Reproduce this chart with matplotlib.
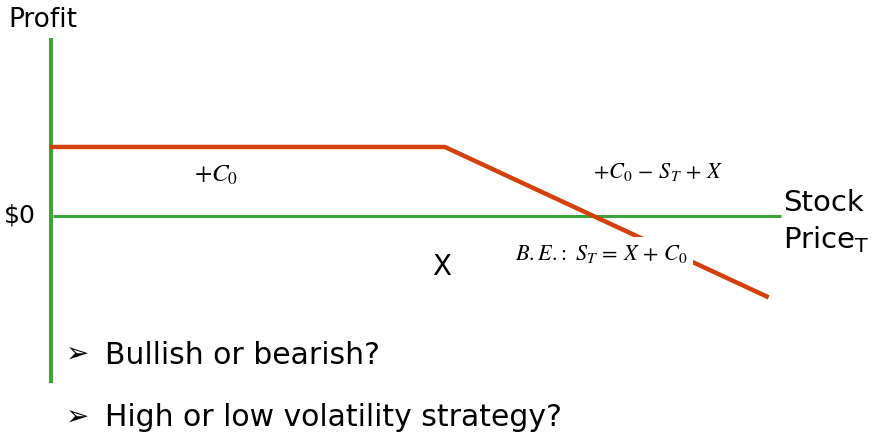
import matplotlib
matplotlib.use('Agg')
import matplotlib.pyplot as plt

# short call payoff diagram
strike = 50.0
premium = 5.0
price = [36.7, 50.0, 60.9]
profit = [5.0, 5.0, -5.9]

axis_x = 36.75          # where the profit axis stands
profit_axis = [12.9, -12.1]
price_axis = [36.8, 61.3]

bullets = ['Bullish or bearish?', 'High or low volatility strategy?']

green = '#3aa53a'
red = '#d4400c'

plt.rcParams['mathtext.fontset'] = 'stix'
plt.rcParams['font.family'] = ['DejaVu Sans']

fig = plt.figure(figsize=(8.72, 4.38), dpi=100)
ax = fig.add_axes([0, 0, 1, 1])
ax.set_xlim(35.02, 64.38)
ax.set_ylim(-16.09, 15.65)
ax.axis('off')

ax.plot([axis_x, axis_x], profit_axis, color=green, lw=2.9, solid_capstyle='butt', zorder=2)
ax.plot(price_axis, [0, 0], color=green, lw=2.2, solid_capstyle='butt', zorder=2)
ax.plot(price, profit, color=red, lw=3.2, solid_capstyle='butt', zorder=3)


def px(x, y):
    return x / 872, 1 - y / 438


tr = ax.transAxes
ax.text(*px(8, 20), 'Profit', transform=tr, fontsize=19, va='center', ha='left')
ax.text(*px(4, 215), '$0', transform=tr, fontsize=18, va='center', ha='left')
ax.text(*px(783, 203), 'Stock', transform=tr, fontsize=21, va='center', ha='left')
ax.text(*px(783, 240), r'Price$_\mathrm{T}$', transform=tr, fontsize=21, va='center',
        ha='left', math_fontfamily='dejavusans')
ax.text(strike - 0.1, -3.7, 'X', fontsize=20, va='center', ha='center')

ax.text(*px(216, 175), r'$+C_{\mathit{0}}$', transform=tr, fontsize=18, va='center', ha='center')
ax.text(*px(658, 172), r'$+C_{\mathit{0}}\,-\,S_T\,+\,X$', transform=tr, fontsize=16,
        va='center', ha='center')
ax.text(*px(601, 254), r'$B.E.\!:\ S_T\,=\,X\,+\,C_{\mathit{0}}$', transform=tr, fontsize=16,
        va='center', ha='center', zorder=4,
        bbox=dict(boxstyle='square,pad=0.25', fc='white', ec='none'))

for i, b in enumerate(bullets):
    y = 355 + i * 63
    ax.text(*px(66, y), '\u27a2', transform=tr, fontsize=20, va='center', ha='left')
    ax.text(*px(105, y), b, transform=tr, fontsize=21.5, va='center', ha='left')

fig.savefig('out.png', dpi=100)
